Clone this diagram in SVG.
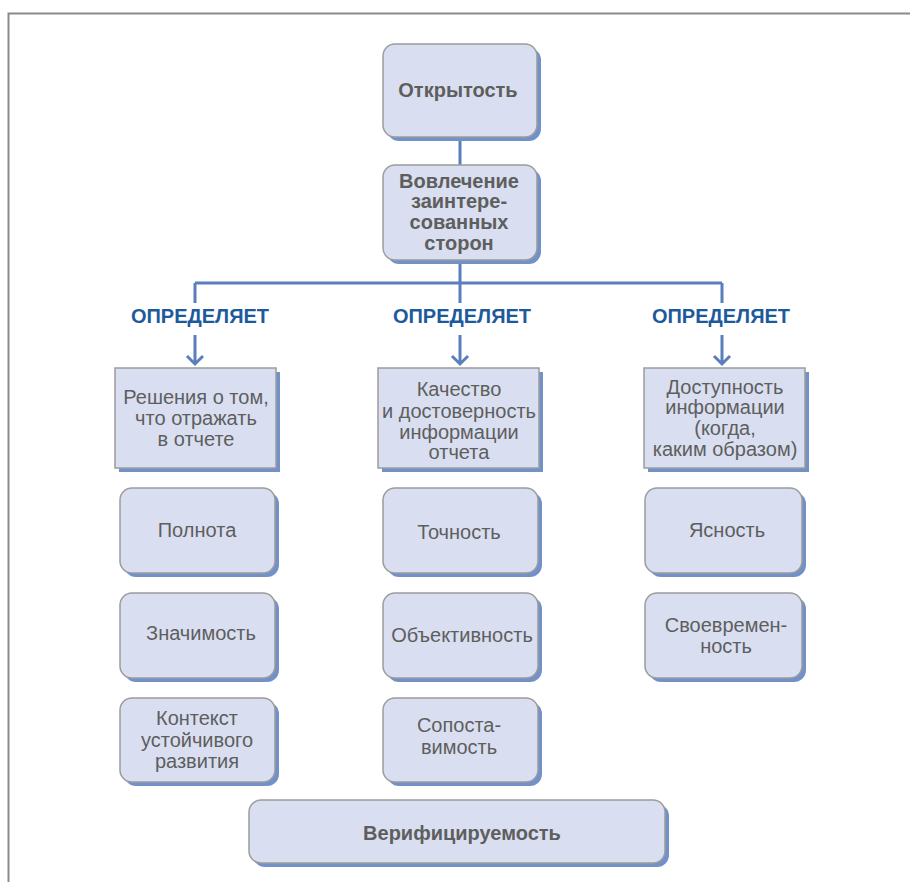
<svg xmlns="http://www.w3.org/2000/svg" width="910" height="882" viewBox="0 0 910 882">
<style>
.sh{fill:#7391c9}
.bx{fill:#d9dff0;stroke:#9c9c9c;stroke-width:1.5}
.t{font-family:"Liberation Sans",Arial,sans-serif;font-size:20px;fill:#5e5e5e;text-anchor:middle}
.b{font-weight:bold}
.lbl{font-family:"Liberation Sans",Arial,sans-serif;font-size:20px;font-weight:bold;fill:#1d5a9c;text-anchor:middle}
.ln{stroke:#5b7fbc;stroke-width:3;fill:none}
</style>
<rect width="910" height="882" fill="#fff"/>
<path d="M8.5 882V13.5H910" fill="none" stroke="#8a8a8a" stroke-width="2"/>
<g id="connectors">
<path class="ln" d="M460 137V165M460 260V283M195 283H722M195 283V303M460 283V303M722 283V303"/>
<path class="ln" d="M195 335V364M187 356L195 364L203 356"/>
<path class="ln" d="M460 335V364M452 356L460 364L468 356"/>
<path class="ln" d="M722 335V364M714 356L722 364L730 356"/>
<text class="lbl" x="200" y="323">ОПРЕДЕЛЯЕТ</text>
<text class="lbl" x="462" y="323">ОПРЕДЕЛЯЕТ</text>
<text class="lbl" x="721" y="323">ОПРЕДЕЛЯЕТ</text>
</g>
<g id="n-otkrytost">
<rect class="sh" x="387" y="48" width="154" height="93" rx="12"/>
<rect class="bx" x="383" y="44" width="154" height="93" rx="12"/>
<text class="t b" x="458" y="97">Открытость</text>
</g>
<g id="n-vovlechenie">
<rect class="sh" x="387" y="169" width="154" height="95" rx="12"/>
<rect class="bx" x="383" y="165" width="154" height="95" rx="12"/>
<text class="t b" x="459" y="188">Вовлечение</text>
<text class="t b" x="459" y="208">заинтере-</text>
<text class="t b" x="459" y="229">сованных</text>
<text class="t b" x="459" y="250">сторон</text>
</g>
<g id="n-resheniya">
<rect class="sh" x="119" y="372" width="161" height="100"/>
<rect class="bx" x="115" y="368" width="161" height="100"/>
<text class="t" x="196" y="404">Решения о том,</text>
<text class="t" x="196" y="425">что отражать</text>
<text class="t" x="196" y="446">в отчете</text>
</g>
<g id="n-kachestvo">
<rect class="sh" x="382" y="372" width="161" height="100"/>
<rect class="bx" x="378" y="368" width="161" height="100"/>
<text class="t" x="459" y="396">Качество</text>
<text class="t" x="459" y="418">и достоверность</text>
<text class="t" x="459" y="439">информации</text>
<text class="t" x="459" y="459">отчета</text>
</g>
<g id="n-dostupnost">
<rect class="sh" x="648" y="372" width="161" height="100"/>
<rect class="bx" x="644" y="368" width="161" height="100"/>
<text class="t" x="725" y="394">Доступность</text>
<text class="t" x="725" y="414">информации</text>
<text class="t" x="725" y="435">(когда,</text>
<text class="t" x="725" y="456">каким образом)</text>
</g>
<g id="n-polnota">
<rect class="sh" x="124" y="492" width="155" height="85" rx="12"/>
<rect class="bx" x="120" y="488" width="155" height="85" rx="12"/>
<text class="t" x="197" y="537">Полнота</text>
</g>
<g id="n-znachimost">
<rect class="sh" x="124" y="597" width="155" height="85" rx="12"/>
<rect class="bx" x="120" y="593" width="155" height="85" rx="12"/>
<text class="t" x="201" y="640">Значимость</text>
</g>
<g id="n-kontekst">
<rect class="sh" x="124" y="702" width="155" height="84" rx="12"/>
<rect class="bx" x="120" y="698" width="155" height="84" rx="12"/>
<text class="t" x="197" y="725">Контекст</text>
<text class="t" x="197" y="747">устойчивого</text>
<text class="t" x="197" y="768">развития</text>
</g>
<g id="n-tochnost">
<rect class="sh" x="387" y="492" width="155" height="85" rx="12"/>
<rect class="bx" x="383" y="488" width="155" height="85" rx="12"/>
<text class="t" x="459" y="539">Точность</text>
</g>
<g id="n-obektivnost">
<rect class="sh" x="387" y="597" width="155" height="85" rx="12"/>
<rect class="bx" x="383" y="593" width="155" height="85" rx="12"/>
<text class="t" x="462" y="642">Объективность</text>
</g>
<g id="n-sopostavimost">
<rect class="sh" x="387" y="702" width="155" height="84" rx="12"/>
<rect class="bx" x="383" y="698" width="155" height="84" rx="12"/>
<text class="t" x="459" y="732">Сопоста-</text>
<text class="t" x="459" y="754">вимость</text>
</g>
<g id="n-yasnost">
<rect class="sh" x="649" y="492" width="157" height="85" rx="12"/>
<rect class="bx" x="645" y="488" width="157" height="85" rx="12"/>
<text class="t" x="727" y="537">Ясность</text>
</g>
<g id="n-svoevremennost">
<rect class="sh" x="649" y="597" width="157" height="85" rx="12"/>
<rect class="bx" x="645" y="593" width="157" height="85" rx="12"/>
<text class="t" x="726" y="632">Своевремен-</text>
<text class="t" x="726" y="653">ность</text>
</g>
<g id="n-verifitsiruemost">
<rect class="sh" x="253" y="804" width="416" height="63" rx="12"/>
<rect class="bx" x="249" y="800" width="416" height="63" rx="12"/>
<text class="t b" x="462" y="840">Верифицируемость</text>
</g>
</svg>
